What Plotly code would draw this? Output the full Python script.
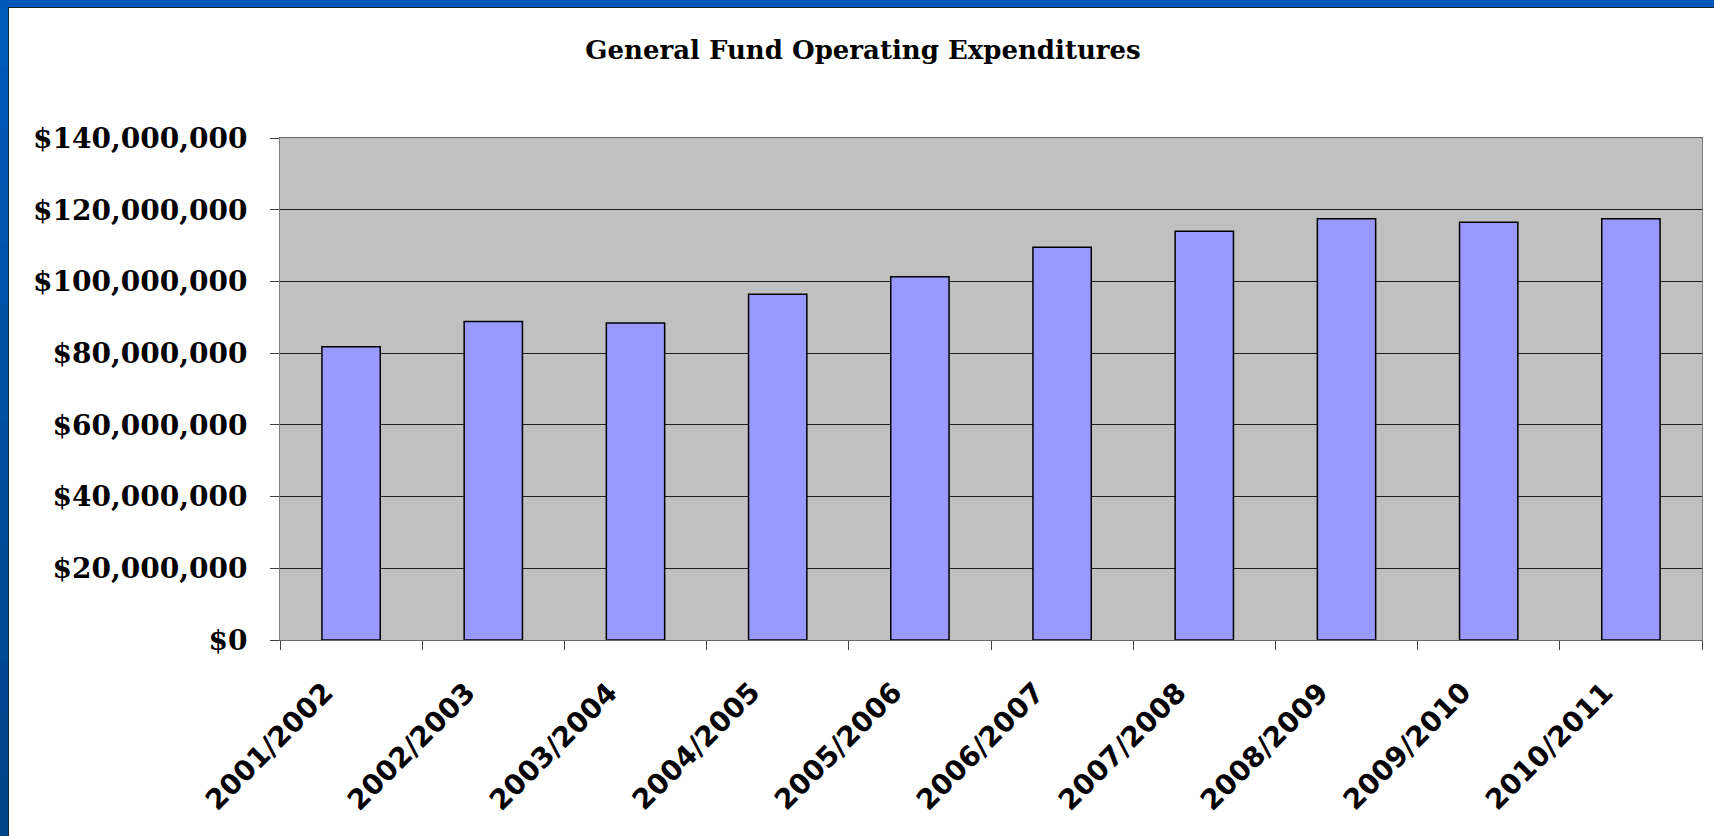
import plotly.graph_objects as go

# Fiscal years and general fund operating expenditures (USD)
fiscal_years = ["2001/2002", "2002/2003", "2003/2004", "2004/2005", "2005/2006",
                "2006/2007", "2007/2008", "2008/2009", "2009/2010", "2010/2011"]
expenditures = [81_800_000, 88_800_000, 88_400_000, 96_400_000, 101_300_000,
                109_500_000, 114_000_000, 117_500_000, 116_500_000, 117_500_000]

y_tick_values = [0, 20_000_000, 40_000_000, 60_000_000, 80_000_000,
                 100_000_000, 120_000_000, 140_000_000]
y_tick_labels = ["$0", "$20,000,000", "$40,000,000", "$60,000,000", "$80,000,000",
                 "$100,000,000", "$120,000,000", "$140,000,000"]

W, H = 1714, 836
ML, MR, MT, MB = 280, 12, 138, 196
PW, PH = W - ML - MR, H - MT - MB


def px_x(px):
    return (px - ML) / PW


def px_y(py):
    return (H - MB - py) / PH


fig = go.Figure(
    go.Bar(
        x=fiscal_years,
        y=expenditures,
        marker=dict(color="#9999FF", line=dict(color="#000000", width=1.5)),
        hovertemplate="%{x}: $%{y:,.0f}<extra></extra>",
    )
)

# Slide frame: blue band along the top and a shaded band down the left side
shapes = [
    dict(type="rect", xref="paper", yref="paper",
         x0=px_x(0), x1=px_x(W), y0=px_y(0), y1=px_y(7),
         fillcolor="#0059B9", line_width=0, layer="above"),
    dict(type="line", xref="paper", yref="paper",
         x0=px_x(8), x1=px_x(W), y0=px_y(7.5), y1=px_y(7.5),
         line=dict(color="#1A2633", width=1), layer="above"),
]
steps = 14
top_rgb, bot_rgb = (0, 90, 186), (0, 68, 136)
for i in range(steps):
    t = i / (steps - 1)
    r = round(top_rgb[0] + (bot_rgb[0] - top_rgb[0]) * t)
    g = round(top_rgb[1] + (bot_rgb[1] - top_rgb[1]) * t)
    b = round(top_rgb[2] + (bot_rgb[2] - top_rgb[2]) * t)
    y_top = 7 + (H - 7) * i / steps
    y_bot = 7 + (H - 7) * (i + 1) / steps + 1
    shapes.append(dict(type="rect", xref="paper", yref="paper",
                       x0=px_x(0), x1=px_x(8), y0=px_y(y_top), y1=px_y(y_bot),
                       fillcolor=f"rgb({r},{g},{b})", line_width=0, layer="above"))
shapes.append(dict(type="line", xref="paper", yref="paper",
                   x0=px_x(8.5), x1=px_x(8.5), y0=px_y(7), y1=px_y(H),
                   line=dict(color="#1A2633", width=1), layer="above"))

# Slanted category labels under each bar (placed by category index)
x_labels = [
    dict(x=i, y=0, xref="x", yref="paper", text=year, showarrow=False,
         textangle=-45, xanchor="right", yanchor="top", xshift=-9, yshift=-33,
         font=dict(family="DejaVu Sans", size=28, color="#000000", weight="bold"))
    for i, year in enumerate(fiscal_years)
]

fig.update_layout(
    width=W,
    height=H,
    margin=dict(l=ML, r=MR, t=MT, b=MB),
    paper_bgcolor="#FFFFFF",
    plot_bgcolor="#C0C0C0",
    bargap=0.59,
    showlegend=False,
    shapes=shapes,
    annotations=x_labels,
    title=dict(
        text="General Fund Operating Expenditures",
        x=863 / W, xref="container", xanchor="center",
        y=1 - 50 / H, yref="container", yanchor="middle",
        font=dict(family="DejaVu Serif", size=26, color="#000000", weight="bold"),
    ),
    xaxis=dict(
        type="category",
        categoryorder="array",
        categoryarray=fiscal_years,
        range=[-0.5, len(fiscal_years) - 0.5],
        tickson="boundaries",
        ticks="outside",
        ticklen=9,
        tickcolor="#404040",
        tickwidth=1,
        showticklabels=False,
        showline=True,
        linecolor="#6A6A6A",
        linewidth=1,
        mirror=True,
        showgrid=False,
    ),
    yaxis=dict(
        range=[0, 140_000_000],
        tickvals=y_tick_values,
        ticktext=y_tick_labels,
        ticks="outside",
        ticklen=9,
        tickcolor="#404040",
        tickwidth=1,
        showline=True,
        linecolor="#7F7F7F",
        linewidth=1,
        mirror=True,
        showgrid=True,
        gridcolor="#1E1E1E",
        gridwidth=1,
        zeroline=False,
        ticklabelstandoff=17,
        tickfont=dict(family="DejaVu Serif", size=28, color="#000000", weight="bold"),
    ),
)

fig.write_html("out.html")
